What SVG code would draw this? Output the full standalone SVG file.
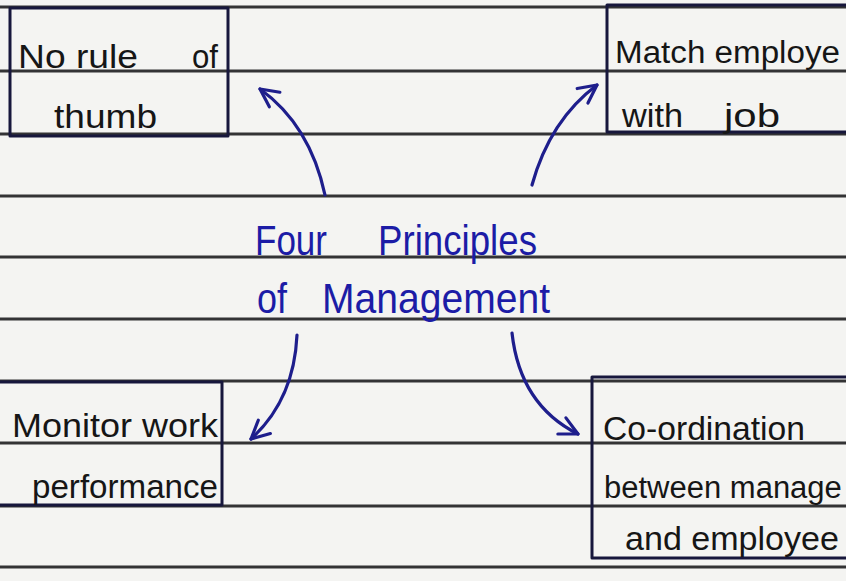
<svg xmlns="http://www.w3.org/2000/svg" width="846" height="581" viewBox="0 0 846 581">
  <style>
    .rule { stroke: #333335; stroke-width: 3; }
    .box { fill: none; stroke: #17173c; stroke-width: 3; stroke-linejoin: round; }
    .note { font-family: "Liberation Sans", "DejaVu Sans", sans-serif; font-size: 34px; fill: #161616; }
    .edge { font-size: 31px; }
    .title { font-family: "Liberation Sans", "DejaVu Sans", sans-serif; font-size: 43px; fill: #1c1ca6; }
    .arrow { fill: none; stroke: #1e1e8c; stroke-width: 3.2; stroke-linecap: round; marker-end: url(#chevron); }
  </style>
  <defs>
    <marker id="chevron" markerUnits="userSpaceOnUse" markerWidth="26" markerHeight="26" viewBox="0 0 26 26" refX="22" refY="13" orient="auto">
      <path d="M4,4 L22,13 L4,22" fill="none" stroke="#1e1e8c" stroke-width="3.2" stroke-linecap="round" stroke-linejoin="round"/>
    </marker>
  </defs>

  <!-- notebook paper -->
  <rect x="0" y="0" width="846" height="581" fill="#f4f4f2"/>
  <g id="ruled-lines">
    <line class="rule" x1="0" y1="7" x2="846" y2="7"/>
    <line class="rule" x1="0" y1="71" x2="846" y2="71"/>
    <line class="rule" x1="0" y1="134" x2="846" y2="134"/>
    <line class="rule" x1="0" y1="196" x2="846" y2="196"/>
    <line class="rule" x1="0" y1="257" x2="846" y2="257"/>
    <line class="rule" x1="0" y1="319" x2="846" y2="319"/>
    <line class="rule" x1="0" y1="381" x2="846" y2="381"/>
    <line class="rule" x1="0" y1="443" x2="846" y2="443"/>
    <line class="rule" x1="0" y1="506" x2="846" y2="506"/>
    <line class="rule" x1="0" y1="567" x2="846" y2="567"/>
  </g>

  <!-- central topic -->
  <g id="topic">
    <text class="title" x="255" y="255" textLength="72" lengthAdjust="spacingAndGlyphs">Four</text>
    <text class="title" x="378" y="255" textLength="159" lengthAdjust="spacingAndGlyphs">Principles</text>
    <text class="title" x="257" y="313" textLength="30" lengthAdjust="spacingAndGlyphs">of</text>
    <text class="title" x="322" y="313" textLength="228" lengthAdjust="spacingAndGlyphs">Management</text>
  </g>

  <!-- principles -->
  <g id="rule-of-thumb">
    <rect class="box" x="10" y="8" width="218" height="128"/>
    <text class="note" x="18" y="68" textLength="120" lengthAdjust="spacingAndGlyphs">No rule</text>
    <text class="note" x="192" y="68" textLength="26" lengthAdjust="spacingAndGlyphs">of</text>
    <text class="note" x="54" y="128" textLength="103" lengthAdjust="spacingAndGlyphs">thumb</text>
  </g>

  <g id="match-employee">
    <rect class="box" x="607" y="5" width="260" height="127"/>
    <text class="note edge" x="615" y="63" textLength="225" lengthAdjust="spacingAndGlyphs">Match employe</text>
    <text class="note" x="622" y="127" textLength="61" lengthAdjust="spacingAndGlyphs">with</text>
    <text class="note" x="724" y="127" textLength="56" lengthAdjust="spacingAndGlyphs">job</text>
  </g>

  <g id="monitor-work">
    <rect class="box" x="-20" y="382" width="242" height="123"/>
    <text class="note" x="12" y="437" textLength="206" lengthAdjust="spacingAndGlyphs">Monitor work</text>
    <text class="note" x="32" y="498" textLength="186" lengthAdjust="spacingAndGlyphs">performance</text>
  </g>

  <g id="coordination">
    <rect class="box" x="592" y="377" width="280" height="181"/>
    <text class="note" x="603" y="440" textLength="202" lengthAdjust="spacingAndGlyphs">Co-ordination</text>
    <text class="note edge" x="604" y="498">between manage</text>
    <text class="note" x="625" y="550" textLength="214" lengthAdjust="spacingAndGlyphs">and employee</text>
  </g>

  <!-- connectors from the topic to each principle -->
  <g id="connectors">
    <path class="arrow" d="M325,195 Q310,125 260,89"/>
    <path class="arrow" d="M532,185 Q550,120 597,85"/>
    <path class="arrow" d="M297,335 Q294,400 251,439"/>
    <path class="arrow" d="M512,333 Q520,405 578,434"/>
  </g>
</svg>
